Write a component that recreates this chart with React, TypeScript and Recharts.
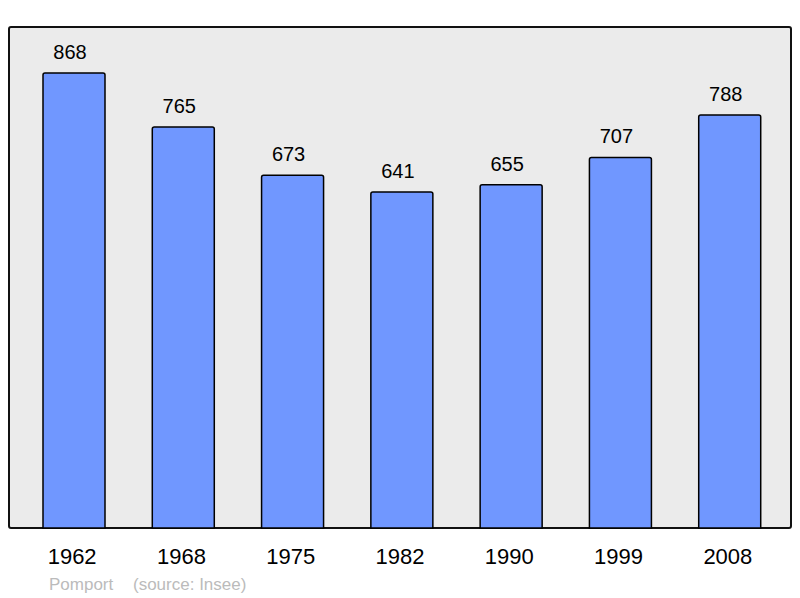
import { BarChart, Bar, XAxis, YAxis, LabelList } from "recharts";

const years = ["1962", "1968", "1975", "1982", "1990", "1999", "2008"];
const population = [868, 765, 673, 641, 655, 707, 788];
const commune = "Pomport";
const source = "(source: Insee)";

const data = years.map((year, i) => ({ year, population: population[i] }));

const FONT = "'Liberation Sans', Arial, sans-serif";

export default function App() {
  return (
    <div style={{ position: "absolute", left: 0, top: 0, width: 800, height: 598, fontFamily: FONT }}>
      <div
        style={{
          position: "absolute",
          left: 8,
          top: 26,
          width: 780,
          height: 499,
          background: "#ebebeb",
          border: "2px solid #111",
          borderRadius: 3,
        }}
      />
      <div style={{ position: "absolute", left: 0, top: 0 }}>
        <BarChart
          width={800}
          height={598}
          data={data}
          margin={{ top: 27, right: 9, left: 9, bottom: 0 }}
          barSize={62}
        >
          <XAxis
            dataKey="year"
            height={70}
            axisLine={false}
            tickLine={false}
            tickSize={0}
            tickMargin={20}
            padding={{ left: 10, right: 7 }}
            tick={{ fill: "#000", fontSize: 22, fontFamily: FONT, dx: -1.5 }}
            interval={0}
          />
          <YAxis hide domain={[0, 956]} />
          <Bar
            dataKey="population"
            fill="#7097ff"
            stroke="#000"
            strokeWidth={1.5}
            radius={[2, 2, 0, 0]}
            isAnimationActive={false}
          >
            <LabelList
              dataKey="population"
              position="top"
              offset={14}
              dx={-4}
              fill="#000"
              fontSize={20}
              fontFamily={FONT}
            />
          </Bar>
        </BarChart>
      </div>
      <div style={{ position: "absolute", left: 49, top: 576, fontSize: 17, lineHeight: "17px", color: "#bbb" }}>
        {commune}
      </div>
      <div style={{ position: "absolute", left: 133, top: 576, fontSize: 17, lineHeight: "17px", color: "#bbb" }}>
        {source}
      </div>
    </div>
  );
}
